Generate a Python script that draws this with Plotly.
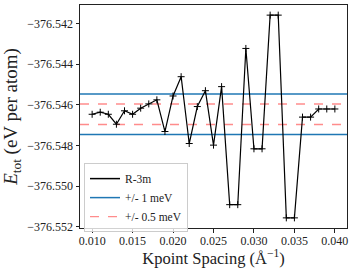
import plotly.graph_objects as go

kspacing = [0.010, 0.011, 0.012, 0.013, 0.014, 0.015, 0.016, 0.017, 0.018, 0.019,
            0.020, 0.021, 0.022, 0.023, 0.024, 0.025, 0.026, 0.027, 0.028, 0.029,
            0.030, 0.031, 0.032, 0.033, 0.034, 0.035, 0.036, 0.037, 0.038, 0.039, 0.040]
energy = [-376.54646, -376.54636, -376.54646, -376.54695, -376.54629, -376.54646,
          -376.54616, -376.54595, -376.54575, -376.54731, -376.54556, -376.54461,
          -376.54790, -376.54608, -376.54530, -376.54798, -376.54510, -376.55091,
          -376.55091, -376.54322, -376.54816, -376.54816, -376.54158, -376.54158,
          -376.55156, -376.55156, -376.54660, -376.54660, -376.54620, -376.54620,
          -376.54620]
reference = energy[0]
tol_1 = 0.001
tol_05 = 0.0005
ytick_vals = [-376.542, -376.544, -376.546, -376.548, -376.550, -376.552]
ytick_text = ["−376.542", "−376.544", "−376.546", "−376.548", "−376.550", "−376.552"]
xtick_vals = [0.010, 0.015, 0.020, 0.025, 0.030, 0.035, 0.040]
xtick_text = ["0.010", "0.015", "0.020", "0.025", "0.030", "0.035", "0.040"]

BLUE = "#1f77b4"
RED = "rgba(255,0,0,0.45)"
FONT = "Liberation Serif"

xmin, xmax = min(kspacing), max(kspacing)
ymin, ymax = min(energy), max(energy)
xpad = (xmax - xmin) * 0.05
ypad = (ymax - ymin) * 0.05

fig = go.Figure()
fig.add_trace(go.Scatter(
    x=kspacing, y=energy, mode="lines+markers", name="R-3m", showlegend=False,
    line=dict(color="black", width=1.2),
    marker=dict(symbol="cross-thin", size=5, line=dict(color="black", width=1)),
))
fig.add_trace(go.Scatter(x=[None], y=[None], mode="lines", name="R-3m",
                         line=dict(color="black", width=1.5)))
fig.add_trace(go.Scatter(x=[None], y=[None], mode="lines", name="+/- 1 meV",
                         line=dict(color=BLUE, width=1.5)))
fig.add_trace(go.Scatter(x=[None], y=[None], mode="lines", name="+/- 0.5 meV",
                         line=dict(color=RED, width=1.2, dash="dash")))

for sgn in (1, -1):
    fig.add_shape(type="line", xref="x domain", x0=0, x1=1, yref="y",
                  y0=reference + sgn * tol_1, y1=reference + sgn * tol_1,
                  line=dict(color=BLUE, width=1.5), layer="below")
    fig.add_shape(type="line", xref="x domain", x0=0, x1=1, yref="y",
                  y0=reference + sgn * tol_05, y1=reference + sgn * tol_05,
                  line=dict(color=RED, width=1.5, dash="dash"), layer="below")

axis_common = dict(showgrid=False, zeroline=False, showline=True, linecolor="#222",
                   linewidth=1, mirror=True, ticks="outside", ticklen=3.5,
                   tickwidth=0.8, tickcolor="#222", automargin=False,
                   tickfont=dict(family=FONT, size=12, color="#222"))

fig.update_layout(
    width=357, height=268,
    margin=dict(l=80, r=10, t=5, b=40),
    paper_bgcolor="white", plot_bgcolor="white",
    font=dict(family=FONT, color="#222"),
    xaxis=dict(range=[xmin - xpad, xmax + xpad], tickvals=xtick_vals, ticktext=xtick_text,
               ticklabelstandoff=-2,
               title=dict(text="Kpoint Spacing (Å<sup>−1</sup>)",
                          font=dict(family=FONT, size=16.5), standoff=0),
               **axis_common),
    yaxis=dict(range=[ymin - ypad, ymax + ypad], tickvals=ytick_vals, ticktext=ytick_text,
               title=dict(text="<i>E</i><sub>tot</sub> (eV per atom)",
                          font=dict(family=FONT, size=19), standoff=6),
               **axis_common),
    legend=dict(x=0.015, y=0.291, xanchor="left", yanchor="top",
                bgcolor="rgba(255,255,255,0.8)", bordercolor="#ccc", borderwidth=1,
                font=dict(family=FONT, size=11.5, color="#222"),
                itemwidth=30, tracegroupgap=0),
    showlegend=True,
)

fig.write_html("out.html", post_script="document.body.style.margin='0';",
               config={"displayModeBar": False})
